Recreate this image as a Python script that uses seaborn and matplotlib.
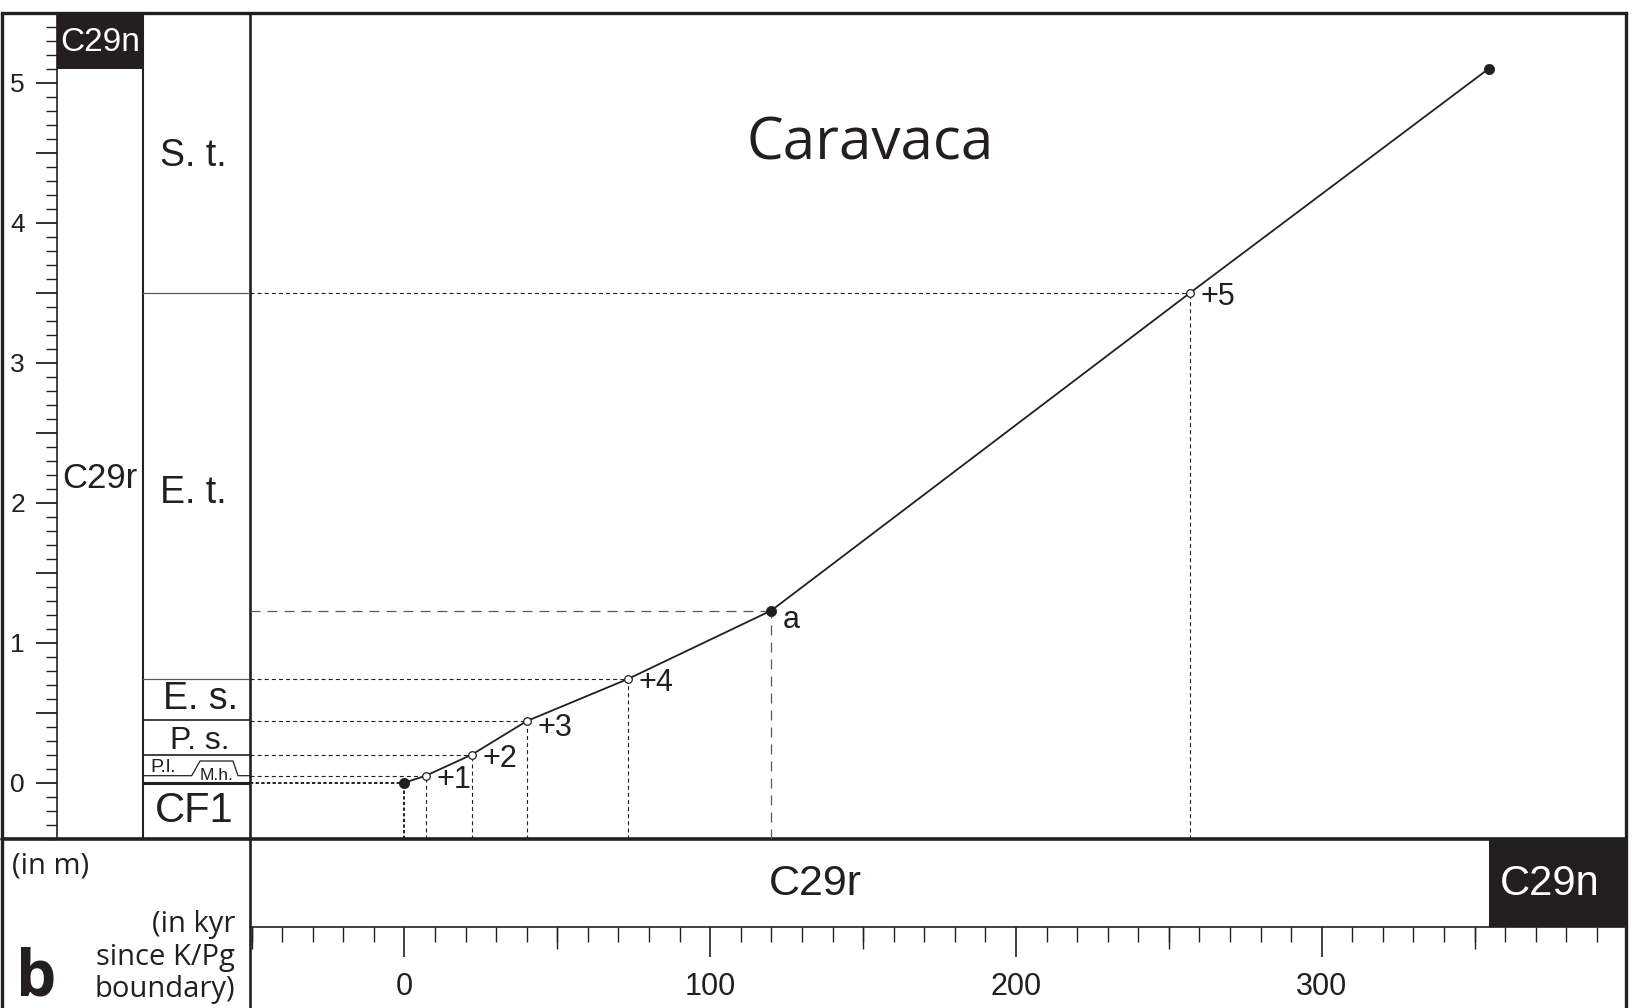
import numpy as np
import pandas as pd
import matplotlib
matplotlib.use("Agg")
import matplotlib.pyplot as plt
from matplotlib import font_manager as fm
from matplotlib.ticker import MultipleLocator
import seaborn as sns

# ---------------- data ----------------
age_kyr = [0, 7, 22, 40, 73, 120, 257, 354.6]
depth_m = [0.0, 0.05, 0.2, 0.44, 0.74, 1.23, 3.5, 5.1]
point_labels = ["", "+1", "+2", "+3", "+4", "a", "+5", ""]
point_kind = ["datum", "level", "level", "level", "level", "tie", "level", "top"]

zone_labels = ["CF1", "P. s.", "E. s.", "E. t.", "S. t."]
zone_base = [-0.4, 0.2, 0.45, 0.74, 3.5]
zone_top = [0.0, 0.45, 0.74, 3.5, 5.5]
zone_boundaries = [0.0, 0.2, 0.45, 0.74, 3.5]
small_zone_labels = ["P.l.", "M.h."]
mh_base, mh_top = 0.05, 0.155

c29n_base_depth = 5.1
c29n_base_age = 354.6

depth_ticks = [0, 1, 2, 3, 4, 5]
depth_tick_labels = ["0", "1", "2", "3", "4", "5"]
age_ticks = [0, 100, 200, 300]
age_tick_labels = ["0", "100", "200", "300"]
age_mid_ticks = [-50, 50, 150, 250, 350]

df = pd.DataFrame({"age": age_kyr, "depth": depth_m,
                   "label": point_labels, "kind": point_kind})

# ---------------- style ----------------
sns.set_theme(style="white")
avail = {f.name for f in fm.fontManager.ttflist}
REG = "Liberation Sans" if "Liberation Sans" in avail else "DejaVu Sans"
MYR = "Open Sans" if "Open Sans" in avail else REG
plt.rcParams["font.family"] = [REG, "DejaVu Sans"]
INK = "#231f20"
GREY = "#58595b"

W, H = 1632, 1008
fig = plt.figure(figsize=(W / 100, H / 100), dpi=100)
fig.patch.set_facecolor("white")


def box(x0, y0, x1, y1):
    return [x0 / W, 1 - y1 / H, (x1 - x0) / W, (y1 - y0) / H]


XLIM = (-50.5, 399.5)
YLIM = (-0.4, 5.5)

bg = fig.add_axes([0, 0, 1, 1])
bg.set_xlim(0, W)
bg.set_ylim(H, 0)
bg.axis("off")
bg.patch.set_alpha(0)

ax = fig.add_axes(box(250, 12.7, 1626, 838.7))
dax = fig.add_axes(box(57, 12.7, 143, 838.7))
zax = fig.add_axes(box(143, 12.7, 250, 838.7))
bax = fig.add_axes(box(250, 839, 1626, 927))
for a in (ax, dax, zax, bax):
    a.patch.set_alpha(0)
    for s in a.spines.values():
        s.set_visible(False)

# ---------------- main panel ----------------
ax.set_xlim(*XLIM)
ax.set_ylim(*YLIM)
ax.set_xticks([])
ax.set_yticks([])

styles = {
    "datum": dict(color=INK, lw=1.4, ls=(0, (1.7, 1.2))),
    "level": dict(color=INK, lw=0.8, ls=(0, (3.6, 2.8))),
    "tie": dict(color=GREY, lw=0.9, ls=(0, (8, 5.6))),
}
for _, r in df.iterrows():
    if r["kind"] in styles:
        st = styles[r["kind"]]
        ax.plot([XLIM[0], r["age"]], [r["depth"], r["depth"]], color=st["color"],
                lw=st["lw"], ls=st["ls"], zorder=1)
        ax.plot([r["age"], r["age"]], [YLIM[0], r["depth"]], color=st["color"],
                lw=st["lw"], ls=st["ls"], zorder=1)

sns.lineplot(data=df, x="age", y="depth", sort=False, estimator=None,
             color=INK, lw=1.3, ax=ax, zorder=3)
filled = df[df["kind"] != "level"]
opened = df[df["kind"] == "level"]
sns.scatterplot(data=filled, x="age", y="depth", s=55, color=INK,
                edgecolor=INK, linewidth=0.5, ax=ax, zorder=4)
sns.scatterplot(data=opened, x="age", y="depth", s=30, color="white",
                edgecolor=INK, linewidth=0.9, ax=ax, zorder=4)
ax.set_xlabel("")
ax.set_ylabel("")

label_offsets = {"a": (8, -7), "+3": (7.5, -5)}
for _, r in df.iterrows():
    if r["label"]:
        off = label_offsets.get(r["label"], (7.5, -3))
        ax.annotate(r["label"], (r["age"], r["depth"]), xytext=off,
                    textcoords="offset points", ha="left", va="center",
                    fontsize=22, color=INK, family=REG)

# ---------------- depth scale column ----------------
dax.set_ylim(*YLIM)
dax.set_xlim(0, 1)
dax.set_xticks([])
for side, lw in (("left", 1.2), ("right", 1.5)):
    dax.spines[side].set_visible(True)
    dax.spines[side].set_linewidth(lw)
    dax.spines[side].set_color(INK)
half_ticks = np.arange(0, 5.01, 0.5)
dax.set_yticks(half_ticks)
dax.set_yticklabels([depth_tick_labels[depth_ticks.index(int(t))] if t in depth_ticks else ""
                     for t in half_ticks])
dax.yaxis.set_minor_locator(MultipleLocator(0.1))
dax.tick_params(axis="y", which="major", direction="out", length=15, width=1.3,
                color=INK, labelsize=19, labelcolor=INK, pad=8, left=True, labelleft=True)
dax.tick_params(axis="y", which="minor", direction="out", length=8, width=1.0,
                color=INK, left=True)
dax.axhspan(c29n_base_depth, YLIM[1], color=INK, lw=0)
dax.text(0.5, 5.29, "C29n", ha="center", va="center", color="white",
         fontsize=24, family=REG)
dax.text(0.06, 2.17, "C29r", ha="left", va="center", color=INK,
         fontsize=25, family=REG)

# ---------------- biozone column ----------------
zax.set_ylim(*YLIM)
zax.set_xlim(0, 1)
zax.set_xticks([])
zax.set_yticks([])
b_lw = {0.0: 2.2, 0.2: 1.2, 0.45: 1.2, 0.74: 0.9, 3.5: 0.9}
b_col = {0.0: INK, 0.2: INK, 0.45: INK, 0.74: GREY, 3.5: GREY}
for b in zone_boundaries:
    zax.axhline(b, color=b_col[b], lw=b_lw[b])
zone_fs = {"CF1": 30, "P. s.": 23, "E. s.": 27, "E. t.": 27, "S. t.": 27}
zone_x = {"CF1": 0.48, "P. s.": 0.53, "E. s.": 0.54, "E. t.": 0.47, "S. t.": 0.47}
zone_dy = {"P. s.": -0.025, "E. t.": -0.05, "S. t.": -0.02}
for name, lo, hi in zip(zone_labels, zone_base, zone_top):
    yc = (lo + hi) / 2 + zone_dy.get(name, 0)
    zax.text(zone_x[name], yc, name, ha="center", va="center",
             fontsize=zone_fs[name], color=INK)
zax.plot([0, 0.455, 0.533, 0.841, 0.888, 1.0],
         [mh_base, mh_base, mh_top, mh_top, mh_base, mh_base], color=INK, lw=0.9)
zax.text(0.065, 0.107, small_zone_labels[0], ha="left", va="center",
         fontsize=14, color=INK)
zax.text(0.69, 0.05, small_zone_labels[1], ha="center", va="center",
         fontsize=12.5, color=INK)

# ---------------- magnetochron bar + age axis ----------------
bax.set_xlim(*XLIM)
bax.set_ylim(0, 1)
bax.set_yticks([])
bax.spines["bottom"].set_visible(True)
bax.spines["bottom"].set_linewidth(1.2)
bax.spines["bottom"].set_color(INK)
bax.axvspan(c29n_base_age, XLIM[1], color=INK, lw=0)
bax.text(134.3, 0.49, "C29r", ha="center", va="center", fontsize=31,
         color=INK, family=REG)
bax.text(374.5, 0.49, "C29n", ha="center", va="center", fontsize=30,
         color="white", family=REG)
bax.set_xticks(age_ticks)
bax.set_xticklabels(age_tick_labels)
bax.xaxis.set_minor_locator(MultipleLocator(10))
bax.tick_params(axis="x", which="major", direction="out", length=21.5, width=1.2,
                color=INK, labelsize=22, labelcolor=INK, pad=11, bottom=True,
                labelbottom=True)
bax.tick_params(axis="x", which="minor", direction="out", length=10.8, width=1.0,
                color=INK, bottom=True)
sec = bax.secondary_xaxis("bottom")
sec.set_xticks(age_mid_ticks)
sec.set_xticklabels([""] * len(age_mid_ticks))
sec.tick_params(axis="x", direction="out", length=15.8, width=1.0, color=INK)
sec.spines["bottom"].set_visible(False)

# ---------------- frame & free text ----------------
bg.plot([2, 1626], [13, 13], color=INK, lw=2.4, solid_capstyle="projecting")
bg.plot([2, 2], [13, 1008], color=INK, lw=2.4)
bg.plot([1626, 1626], [13, 1008], color=INK, lw=2.4)
bg.plot([2, 1626], [839, 839], color=INK, lw=2.6)
bg.plot([250, 250], [13, 1008], color=INK, lw=1.9)

bg.text(870, 159, "Caravaca", ha="center", va="baseline", fontsize=42,
        color=INK, family=MYR)
bg.text(12, 866, "(in m)", ha="left", va="center", fontsize=21, color=INK, family=MYR)
bg.text(235, 957, "(in kyr\nsince K/Pg\nboundary)", ha="right", va="center",
        multialignment="right", fontsize=21, color=INK, family=MYR, linespacing=1.17)
bg.text(36, 995, "b", ha="center", va="baseline", fontsize=46, fontweight="bold",
        color=INK, family=MYR)

fig.savefig("out.png", dpi=100, facecolor="white")
